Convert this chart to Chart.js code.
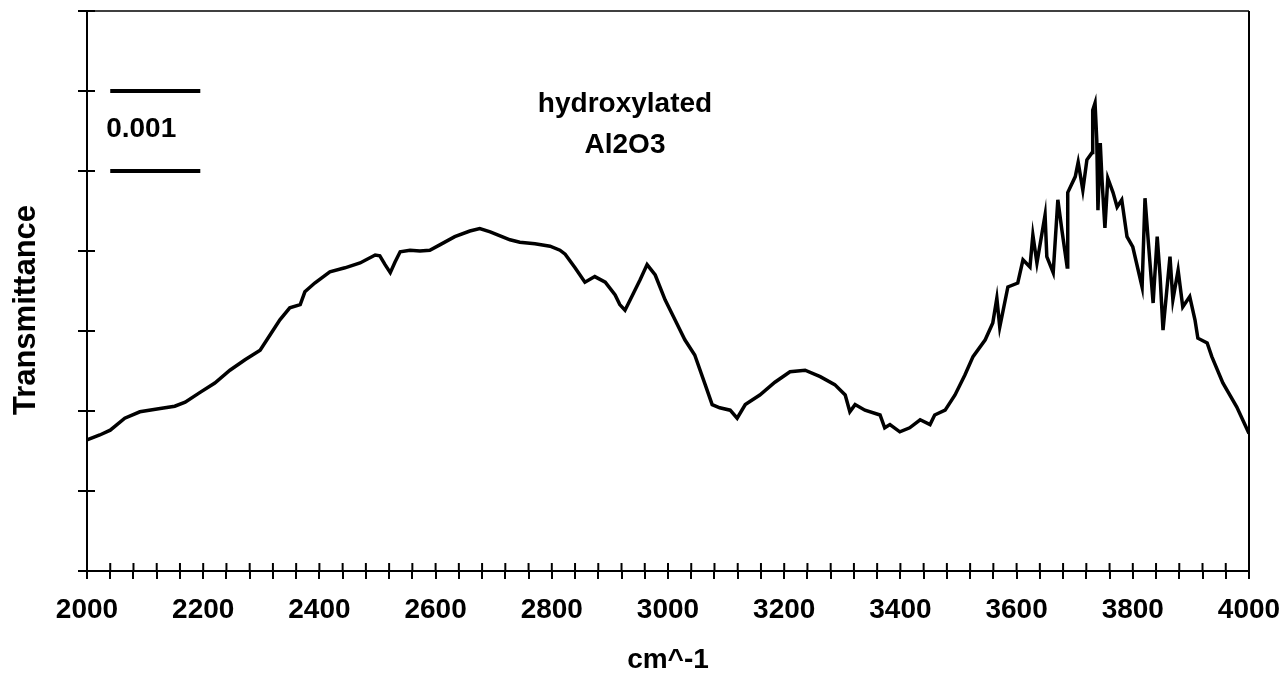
<!DOCTYPE html>
<html>
<head>
<meta charset="utf-8">
<script src="https://cdn.jsdelivr.net/npm/chart.js"></script>
<style>
  body { margin: 0; background: #fff; }
</style>
</head>
<body>
<canvas id="grafico" width="1284" height="673"></canvas>
<script>
// IR spectrum of hydroxylated Al2O3, 2000-4000 cm^-1
var wavenumber = [2000,2022,2040,2065,2091,2126,2151,2169,2194,2220,
  2246,2272,2298,2315,2332,2349,2367,2375,2392,2418,
  2444,2470,2496,2504,2513,2522,2530,2539,2556,2573,
  2590,2608,2633,2659,2676,2694,2711,2728,2745,2771,
  2797,2814,2823,2840,2857,2874,2892,2909,2917,2926,
  2935,2952,2964,2978,2995,3012,3029,3046,3064,3076,
  3089,3107,3119,3133,3158,3184,3210,3236,3262,3287,
  3305,3313,3322,3339,3365,3373,3382,3399,3416,3434,
  3451,3459,3477,3494,3511,3525,3546,3559,3566,3571,
  3585,3602,3611,3623,3628,3635,3649,3652,3663,3671,
  3678,3687,3688,3701,3706,3714,3721,3730,3731,3735,
  3738,3740,3744,3747,3752,3757,3766,3773,3781,3790,
  3800,3816,3821,3826,3835,3842,3847,3852,3864,3869,
  3878,3886,3898,3907,3912,3928,3936,3955,3979,4000]

// transmittance in units of 0.001 (one y tick step)
var transmittance = [1.64,1.70,1.76,1.91,1.99,2.03,2.06,2.11,2.23,2.35,
  2.51,2.64,2.76,2.95,3.14,3.29,3.33,3.49,3.60,3.74,
  3.79,3.85,3.95,3.94,3.83,3.73,3.86,3.99,4.01,4.00,
  4.01,4.08,4.18,4.25,4.28,4.24,4.19,4.14,4.11,4.09,
  4.06,4.01,3.96,3.79,3.61,3.68,3.61,3.45,3.33,3.26,
  3.39,3.64,3.83,3.70,3.39,3.14,2.89,2.70,2.33,2.08,
  2.04,2.01,1.91,2.08,2.20,2.36,2.49,2.51,2.43,2.33,
  2.20,1.99,2.08,2.01,1.95,1.79,1.83,1.74,1.79,1.89,
  1.83,1.95,2.01,2.20,2.45,2.68,2.89,3.10,3.41,3.05,
  3.55,3.60,3.89,3.80,4.20,3.85,4.45,3.93,3.73,4.64,
  4.26,3.80,4.73,4.93,5.11,4.76,5.14,5.23,5.76,5.85,
  5.39,4.51,5.35,4.89,4.29,4.91,4.73,4.55,4.64,4.18,
  4.05,3.55,4.66,4.18,3.35,4.18,3.68,3.01,3.93,3.39,
  3.76,3.30,3.43,3.14,2.91,2.85,2.68,2.35,2.05,1.72]

// scale bar: two lines one tick (0.001) apart
var barX = [2040, 2195]
var barTop = [6, 6]
var barBottom = [5, 5]

var familia = '"Liberation Sans", Arial, sans-serif'
var fonte = 'bold 28px ' + familia

function pontos(xs, ys) {
    return xs.map(function (v, i) { return { x: v, y: ys[i] } })
}

// frame, inner tick halves and the free texts
var moldura = {
    id: 'moldura',
    afterDraw: function (chart) {
        var c = chart.ctx, a = chart.chartArea
        var sx = chart.scales.x, sy = chart.scales.y
        c.save()
        c.strokeStyle = '#000'
        c.lineWidth = 1.5
        c.beginPath(); c.moveTo(a.left, a.top); c.lineTo(a.right, a.top); c.stroke()
        c.lineWidth = 2
        c.beginPath(); c.moveTo(a.right, a.top); c.lineTo(a.right, a.bottom); c.stroke()

        sx.ticks.forEach(function (t) {
            var px = sx.getPixelForValue(t.value)
            c.beginPath(); c.moveTo(px, a.bottom); c.lineTo(px, a.bottom - 8); c.stroke()
        })
        sy.ticks.forEach(function (t) {
            var py = sy.getPixelForValue(t.value)
            c.beginPath(); c.moveTo(a.left, py); c.lineTo(a.left + 8, py); c.stroke()
        })

        c.fillStyle = '#000'
        c.font = fonte
        c.textBaseline = 'alphabetic'
        c.textAlign = 'left'
        c.fillText('0.001', sx.getPixelForValue(2033), sy.getPixelForValue(5.42))
        c.textAlign = 'center'
        c.fillText('hydroxylated', sx.getPixelForValue(2926), sy.getPixelForValue(5.74))
        c.fillText('Al2O3', sx.getPixelForValue(2926), sy.getPixelForValue(5.225))
        c.fillText('cm^-1', (a.left + a.right) / 2, 668)
        c.font = 'bold 31px ' + familia
        c.translate(35, 310)
        c.rotate(-Math.PI / 2)
        c.fillText('Transmittance', 0, 0)
        c.restore()
    }
}

var ctx = document.getElementById('grafico')

var grafico = new Chart(ctx, {
    type: 'line',
    data: {
        datasets: [
            {
                data: pontos(wavenumber, transmittance),
                borderColor: '#000',
                borderWidth: 3.5,
                pointRadius: 0,
                tension: 0,
                fill: false
            },
            {
                data: pontos(barX, barTop),
                borderColor: '#000',
                borderWidth: 4,
                pointRadius: 0
            },
            {
                data: pontos(barX, barBottom),
                borderColor: '#000',
                borderWidth: 4,
                pointRadius: 0
            }
        ]
    },
    options: {
        responsive: false,
        animation: false,
        devicePixelRatio: 1,
        layout: { padding: { top: 11, right: 35, left: 0, bottom: 0 } },
        plugins: {
            legend: { display: false },
            tooltip: { enabled: false }
        },
        scales: {
            x: {
                type: 'linear',
                min: 2000,
                max: 4000,
                afterFit: function (s) {
                    s.height = 102
                    s.paddingLeft = 0
                    s.paddingRight = 0
                },
                grid: { drawOnChartArea: false, tickLength: 8, color: '#000', lineWidth: 2 },
                border: { color: '#000', width: 2 },
                ticks: {
                    stepSize: 40,
                    autoSkip: false,
                    maxRotation: 0,
                    padding: 14,
                    color: '#000',
                    font: { family: familia, size: 28, weight: 'bold' },
                    callback: function (v) { return v % 200 === 0 ? v : '' }
                }
            },
            y: {
                min: 0,
                max: 7,
                afterFit: function (s) { s.width = 87 },
                grid: { drawOnChartArea: false, tickLength: 9, color: '#000', lineWidth: 2 },
                border: { color: '#000', width: 2 },
                ticks: { display: false, stepSize: 1 }
            }
        }
    },
    plugins: [moldura]
})
</script>
</body>
</html>
